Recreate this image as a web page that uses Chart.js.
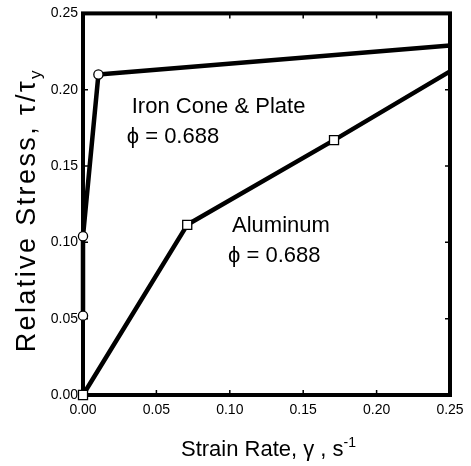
<!DOCTYPE html>
<html><head><meta charset="utf-8">
<script src="https://cdn.jsdelivr.net/npm/chart.js@4.4.0/dist/chart.umd.min.js"></script>
<style>html,body{margin:0;padding:0;background:#fff}canvas{display:block}</style>
</head><body>
<canvas id="c" width="471" height="466"></canvas>
<script>
// ---- data ----
const ironX = [0, 0, 0.0105, 0.25];
const ironY = [0.052, 0.104, 0.210, 0.229];
const aluminumX = [0, 0.071, 0.171, 0.25];
const aluminumY = [0, 0.1115, 0.167, 0.212];
const xTicks = [0, 0.05, 0.10, 0.15, 0.20, 0.25];
const yTicks = [0, 0.05, 0.10, 0.15, 0.20, 0.25];
const ironLabel = ["Iron Cone & Plate", "\u03D5 = 0.688"];
const aluminumLabel = ["Aluminum", "\u03D5 = 0.688"];
const xTitle = [["Strain Rate, \u03B3 , s", 0], ["-1", 1]];
const yTitle = [["Relative Stress, \u03C4/\u03C4", 0], ["y", -1]];

// ---- layout / style ----
const FONT = "'Liberation Sans', Arial, Helvetica, sans-serif";
const annotations = [
  {lines: ironLabel, x: 0.0332, y: 0.1847, dy: 0.0196, phiShift: -5},
  {lines: aluminumLabel, x: 0.1015, y: 0.1065, dy: 0.0196, phiShift: -4}
];

function toPts(xs, ys) { return xs.map((x, i) => ({x: x, y: ys[i]})); }

function drawRich(ctx, segs, big, small, shift, spacing) {
  ctx.letterSpacing = spacing + 'px';
  let total = 0;
  const parts = segs.map(([t, s]) => {
    ctx.font = (s === 0 ? big : small) + "px " + FONT;
    const w = ctx.measureText(t).width;
    total += w;
    return {t, s, w};
  });
  let x = -total / 2;
  parts.forEach(p => {
    ctx.font = (p.s === 0 ? big : small) + "px " + FONT;
    ctx.fillText(p.t, x, p.s === 0 ? 0 : (p.s > 0 ? -shift : shift * 0.7));
    x += p.w;
  });
  ctx.letterSpacing = '0px';
}

const framePlugin = {
  id: 'frame',
  beforeDatasetsDraw(chart) {
    const {ctx, chartArea: a, scales} = chart;
    ctx.save();
    ctx.strokeStyle = '#000';
    ctx.lineWidth = 1.5;
    const L = 5;
    ctx.beginPath();
    xTicks.forEach(v => {
      const px = scales.x.getPixelForValue(v);
      ctx.moveTo(px, a.bottom); ctx.lineTo(px, a.bottom - L);
      ctx.moveTo(px, a.top); ctx.lineTo(px, a.top + L);
    });
    yTicks.forEach(v => {
      const py = scales.y.getPixelForValue(v);
      ctx.moveTo(a.left, py); ctx.lineTo(a.left + L, py);
      ctx.moveTo(a.right, py); ctx.lineTo(a.right - L, py);
    });
    ctx.stroke();
    ctx.lineWidth = 4;
    ctx.lineJoin = 'miter';
    ctx.strokeRect(a.left, a.top, a.right - a.left, a.bottom - a.top);
    ctx.restore();
  },
  afterDraw(chart) {
    const {ctx, chartArea: a, scales} = chart;
    ctx.save();
    ctx.fillStyle = '#000';
    ctx.textBaseline = 'alphabetic';
    ctx.textAlign = 'left';
    // annotations
    annotations.forEach(an => {
      const x = scales.x.getPixelForValue(an.x);
      ctx.font = "22px " + FONT;
      an.lines.forEach((t, i) => {
        const y = scales.y.getPixelForValue(an.y - i * an.dy);
        ctx.fillText(t, x + (i > 0 ? an.phiShift : 0), y);
      });
    });
    // x title
    ctx.save();
    ctx.translate((a.left + a.right) / 2 + 2, 456);
    drawRich(ctx, xTitle, 22, 14, 9, 0);
    ctx.restore();
    // y title
    ctx.save();
    ctx.translate(35, (a.top + a.bottom) / 2 + 6);
    ctx.rotate(-Math.PI / 2);
    drawRich(ctx, yTitle, 27, 17, 9, 2.4);
    ctx.restore();
    ctx.restore();
  }
};

new Chart(document.getElementById('c'), {
  type: 'scatter',
  data: {
    datasets: [
      {
        label: 'Iron Cone & Plate',
        data: toPts(ironX, ironY),
        showLine: true,
        borderColor: '#000',
        borderWidth: 4.5,
        borderJoinStyle: 'round',
        pointStyle: 'circle',
        pointRadius: c => c.dataIndex === ironX.length - 1 ? 0 : 4.6,
        pointBackgroundColor: '#fff',
        pointBorderColor: '#000',
        pointBorderWidth: 1.3,
        clip: false
      },
      {
        label: 'Aluminum',
        data: toPts(aluminumX, aluminumY),
        showLine: true,
        borderColor: '#000',
        borderWidth: 4.5,
        borderJoinStyle: 'round',
        pointStyle: 'rect',
        pointRadius: c => c.dataIndex === aluminumX.length - 1 ? 0 : 6.4,
        pointBackgroundColor: '#fff',
        pointBorderColor: '#000',
        pointBorderWidth: 1.3,
        clip: false
      }
    ]
  },
  options: {
    responsive: false,
    animation: false,
    events: [],
    layout: {padding: {top: 11, right: 21, left: 0, bottom: 0}},
    plugins: {legend: {display: false}, tooltip: {enabled: false}},
    scales: {
      x: {
        type: 'linear', min: 0, max: 0.25,
        afterBuildTicks: s => { s.ticks = xTicks.map(v => ({value: v})); },
        afterFit: s => { s.height = 71; },
        grid: {display: false, drawTicks: false},
        border: {display: false},
        ticks: {padding: 7, color: '#000', font: {family: FONT, size: 14},
                callback: v => Number(v).toFixed(2), maxRotation: 0, autoSkip: false}
      },
      y: {
        type: 'linear', min: 0, max: 0.25,
        afterBuildTicks: s => { s.ticks = yTicks.map(v => ({value: v})); },
        afterFit: s => { s.width = 83; },
        grid: {display: false, drawTicks: false},
        border: {display: false},
        ticks: {padding: 5, color: '#000', font: {family: FONT, size: 14},
                callback: v => Number(v).toFixed(2), autoSkip: false}
      }
    }
  },
  plugins: [framePlugin]
});
</script>
</body></html>
